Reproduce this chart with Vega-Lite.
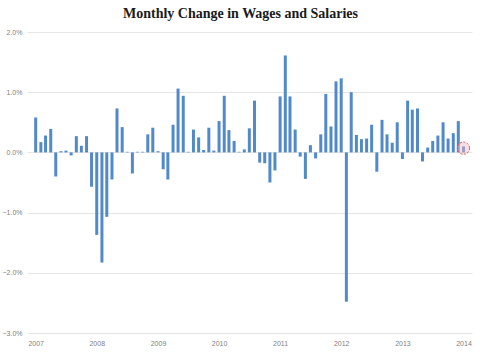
{
  "$schema": "https://vega.github.io/schema/vega-lite/v6.json",
  "width": 445,
  "height": 301,
  "autosize": {"type": "none"},
  "padding": {"left": 27, "top": 32, "right": 8, "bottom": 19},
  "background": "white",
  "title": {
    "text": "Monthly Change in Wages and Salaries",
    "font": "Liberation Serif",
    "fontSize": 14,
    "fontWeight": "bold",
    "color": "#1a1a1a",
    "anchor": "middle",
    "frame": "group",
    "dx": -9,
    "offset": 7
  },
  "config": {
    "view": {"stroke": null},
    "axis": {"labelFont": "Liberation Sans", "labelFontSize": 7, "labelColor": "#808080", "ticks": false, "domain": false}
  },
  "datasets": {
    "wages": [
      {"date": "2007-01-01", "change": 0.58},
      {"date": "2007-02-01", "change": 0.17},
      {"date": "2007-03-01", "change": 0.28},
      {"date": "2007-04-01", "change": 0.39},
      {"date": "2007-05-01", "change": -0.40},
      {"date": "2007-06-01", "change": 0.02},
      {"date": "2007-07-01", "change": 0.03},
      {"date": "2007-08-01", "change": -0.05},
      {"date": "2007-09-01", "change": 0.27},
      {"date": "2007-10-01", "change": 0.11},
      {"date": "2007-11-01", "change": 0.27},
      {"date": "2007-12-01", "change": -0.57},
      {"date": "2008-01-01", "change": -1.37},
      {"date": "2008-02-01", "change": -1.83},
      {"date": "2008-03-01", "change": -1.07},
      {"date": "2008-04-01", "change": -0.45},
      {"date": "2008-05-01", "change": 0.73},
      {"date": "2008-06-01", "change": 0.42},
      {"date": "2008-07-01", "change": 0.01},
      {"date": "2008-08-01", "change": -0.35},
      {"date": "2008-09-01", "change": 0.01},
      {"date": "2008-10-01", "change": 0.01},
      {"date": "2008-11-01", "change": 0.30},
      {"date": "2008-12-01", "change": 0.41},
      {"date": "2009-01-01", "change": 0.02},
      {"date": "2009-02-01", "change": -0.28},
      {"date": "2009-03-01", "change": -0.45},
      {"date": "2009-04-01", "change": 0.46},
      {"date": "2009-05-01", "change": 1.06},
      {"date": "2009-06-01", "change": 0.94},
      {"date": "2009-07-01", "change": 0.01},
      {"date": "2009-08-01", "change": 0.38},
      {"date": "2009-09-01", "change": 0.25},
      {"date": "2009-10-01", "change": 0.04},
      {"date": "2009-11-01", "change": 0.41},
      {"date": "2009-12-01", "change": 0.03},
      {"date": "2010-01-01", "change": 0.52},
      {"date": "2010-02-01", "change": 0.94},
      {"date": "2010-03-01", "change": 0.37},
      {"date": "2010-04-01", "change": 0.19},
      {"date": "2010-05-01", "change": 0.01},
      {"date": "2010-06-01", "change": 0.05},
      {"date": "2010-07-01", "change": 0.40},
      {"date": "2010-08-01", "change": 0.86},
      {"date": "2010-09-01", "change": -0.17},
      {"date": "2010-10-01", "change": -0.18},
      {"date": "2010-11-01", "change": -0.50},
      {"date": "2010-12-01", "change": -0.30},
      {"date": "2011-01-01", "change": 0.93},
      {"date": "2011-02-01", "change": 1.61},
      {"date": "2011-03-01", "change": 0.93},
      {"date": "2011-04-01", "change": 0.38},
      {"date": "2011-05-01", "change": -0.07},
      {"date": "2011-06-01", "change": -0.44},
      {"date": "2011-07-01", "change": 0.12},
      {"date": "2011-08-01", "change": -0.10},
      {"date": "2011-09-01", "change": 0.30},
      {"date": "2011-10-01", "change": 0.97},
      {"date": "2011-11-01", "change": 0.43},
      {"date": "2011-12-01", "change": 1.18},
      {"date": "2012-01-01", "change": 1.23},
      {"date": "2012-02-01", "change": -2.48},
      {"date": "2012-03-01", "change": 1.00},
      {"date": "2012-04-01", "change": 0.29},
      {"date": "2012-05-01", "change": 0.22},
      {"date": "2012-06-01", "change": 0.23},
      {"date": "2012-07-01", "change": 0.46},
      {"date": "2012-08-01", "change": -0.32},
      {"date": "2012-09-01", "change": 0.54},
      {"date": "2012-10-01", "change": 0.30},
      {"date": "2012-11-01", "change": 0.16},
      {"date": "2012-12-01", "change": 0.50},
      {"date": "2013-01-01", "change": -0.11},
      {"date": "2013-02-01", "change": 0.86},
      {"date": "2013-03-01", "change": 0.71},
      {"date": "2013-04-01", "change": 0.73},
      {"date": "2013-05-01", "change": -0.15},
      {"date": "2013-06-01", "change": 0.08},
      {"date": "2013-07-01", "change": 0.19},
      {"date": "2013-08-01", "change": 0.28},
      {"date": "2013-09-01", "change": 0.50},
      {"date": "2013-10-01", "change": 0.23},
      {"date": "2013-11-01", "change": 0.32},
      {"date": "2013-12-01", "change": 0.52},
      {"date": "2014-01-01", "change": 0.10}
    ],
    "highlight": [
      {"date": "2014-01-01"}
    ]
  },
  "layer": [
    {
      "data": {"name": "wages"},
      "mark": {"type": "bar", "size": 3, "color": "#5289c9"},
      "encoding": {
        "x": {
          "field": "date",
          "type": "temporal",
          "scale": {"type": "utc", "domain": [{"year": 2006, "month": 12, "date": 10, "utc": true}, {"year": 2014, "month": 1, "date": 22, "utc": true}]},
          "axis": {
            "title": null,
            "grid": false,
            "tickCount": {"interval": "year", "step": 1},
            "labelExpr": "utcFormat(datum.value, '%Y')",
            "labelPadding": 6,
            "labelFlush": false,
            "labelOverlap": false
          }
        },
        "y": {
          "field": "change",
          "type": "quantitative",
          "scale": {"domain": [-3, 2], "nice": false},
          "axis": {
            "title": null,
            "values": [-3, -2.5, -2, -1.5, -1, -0.5, 0, 0.5, 1, 1.5, 2],
            "labelExpr": "format(datum.value, '.1f') + '%'",
            "gridColor": "#e6e6e6",
            "gridWidth": 1,
            "labelPadding": 5
          }
        }
      }
    },
    {
      "data": {"name": "highlight"},
      "mark": {"type": "point", "shape": "circle", "size": 150, "filled": true, "fill": "#f4b6c2", "fillOpacity": 0.45, "stroke": "#d9534f", "strokeDash": [2, 1.5], "strokeWidth": 1},
      "encoding": {
        "x": {"field": "date", "type": "temporal"},
        "y": {"datum": 0.07}
      }
    }
  ]
}
